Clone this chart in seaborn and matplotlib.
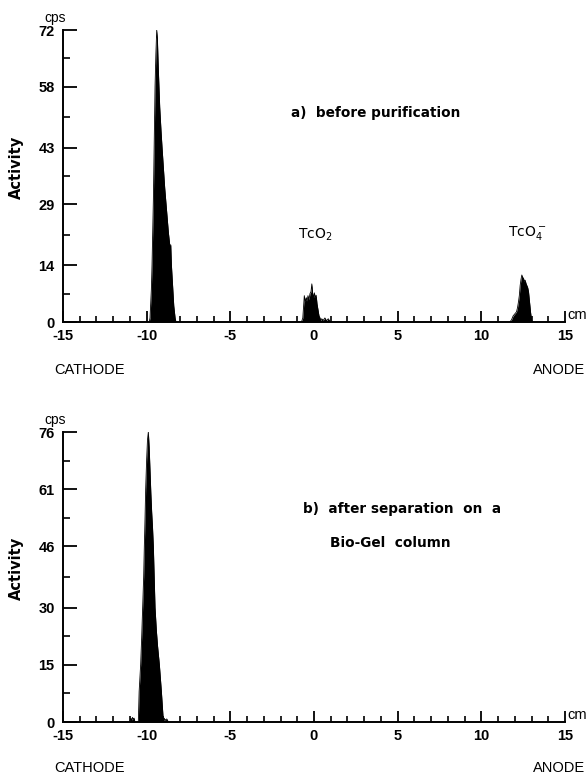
import numpy as np
import matplotlib
matplotlib.use("Agg")
import matplotlib.pyplot as plt
import seaborn as sns
from matplotlib.ticker import FixedLocator

# ---------------- data ----------------
# panel a) before purification
peak_a1_x = [-9.85, -9.80, -9.72, -9.68, -9.64, -9.60, -9.55, -9.50, -9.45, -9.40,
             -9.36, -9.30, -9.22, -9.14, -9.08, -9.00, -8.92, -8.86, -8.78, -8.70,
             -8.62, -8.56, -8.52, -8.45, -8.38, -8.30, -8.25]
peak_a1_y = [0, 1, 8, 14, 22, 30, 44, 58, 66, 72,
             70, 62, 53, 47, 43, 38, 33, 30, 26, 22,
             19, 19, 14, 9, 4, 1, 0]

peak_a2_x = [-0.75, -0.67, -0.62, -0.58, -0.52, -0.46, -0.41, -0.36, -0.30, -0.24,
             -0.18, -0.13, -0.08, -0.03, 0.02, 0.08, 0.13, 0.18, 0.24, 0.30,
             0.36, 0.40, 0.46, 0.55, 0.65, 0.75, 0.85, 0.95, 1.05]
peak_a2_y = [0, 1, 4, 6.5, 5, 6, 5.2, 6.5, 5.5, 7,
             7.5, 9.4, 7, 6, 7.2, 6, 6.6, 4.5, 3, 1.5,
             1, 0.3, 0.8, 0.4, 1.0, 0.3, 0.8, 0.2, 0]

peak_a3_x = [11.70, 11.80, 11.90, 12.00, 12.10, 12.16, 12.22, 12.27, 12.32, 12.37,
             12.42, 12.47, 12.52, 12.57, 12.62, 12.67, 12.72, 12.77, 12.82, 12.88,
             12.94, 13.00, 13.05]
peak_a3_y = [0, 0.5, 1.5, 2, 2.5, 3.5, 5, 6.5, 9, 10.5,
             11.6, 11, 10.8, 10, 10.3, 9.5, 9, 8.5, 7.5, 5,
             2.5, 0.5, 0]

# panel b) after separation on a Bio-Gel column
peak_b_x = [-11.00, -10.95, -10.90, -10.85, -10.80, -10.75, -10.70, -10.60, -10.50, -10.45,
            -10.36, -10.30, -10.24, -10.18, -10.14, -10.10, -10.06, -10.00, -9.95, -9.90,
            -9.85, -9.80, -9.75, -9.70, -9.65, -9.60, -9.55, -9.50, -9.42, -9.35,
            -9.24, -9.12, -9.00, -8.95, -8.90, -8.80, -8.70]
peak_b_y = [0, 1, 0.5, 1.2, 0.8, 1, 0, 0, 0, 8,
            15, 22, 30, 38, 46, 53, 61, 69, 74, 76,
            72, 66, 60, 55, 51, 46, 38, 30, 24, 20,
            15, 8, 0, 1, 0.5, 0.8, 0]

x_major = [-15, -10, -5, 0, 5, 10, 15]
x_labels = ["-15", "-10", "-5", "0", "5", "10", "15"]
y_ticks_a = [0, 14, 29, 43, 58, 72]
y_ticks_b = [0, 15, 30, 46, 61, 76]

# ---------------- figure ----------------
sns.set_style("ticks")
plt.rcParams["font.family"] = ["DejaVu Sans"]
plt.rcParams["mathtext.default"] = "regular"
plt.rcParams["text.color"] = "black"
plt.rcParams["axes.labelcolor"] = "black"
plt.rcParams["xtick.color"] = "black"
plt.rcParams["ytick.color"] = "black"

fig = plt.figure(figsize=(5.88, 7.75), dpi=100)
ax_a = fig.add_axes([63 / 588, 1 - 322 / 775, 502 / 588, 292 / 775])
ax_b = fig.add_axes([63 / 588, 1 - 722 / 775, 502 / 588, 290 / 775])

tick_font = dict(family="Liberation Sans", weight="bold", size=10.5)


def style_axis(ax, yt):
    ax.set_xlim(-15, 15)
    ax.set_ylim(0, yt[-1])
    for s in ["top", "right"]:
        ax.spines[s].set_visible(False)
    for s in ["left", "bottom"]:
        ax.spines[s].set_linewidth(1.4)
        ax.spines[s].set_color("black")
    ax.set_xticks(x_major)
    ax.set_xticklabels(x_labels, fontdict=tick_font)
    ax.xaxis.set_minor_locator(FixedLocator(np.arange(-14, 15, 1)))
    ax.set_yticks(yt)
    ax.set_yticklabels([str(v) for v in yt], fontdict=tick_font)
    mids = [(yt[i] + yt[i + 1]) / 2 for i in range(len(yt) - 1)]
    ax.yaxis.set_minor_locator(FixedLocator(mids))
    ax.tick_params(axis="x", which="both", bottom=True, top=False)
    ax.tick_params(axis="y", which="both", left=True, right=False)
    ax.tick_params(axis="x", which="major", direction="in", length=8, width=1.3,
                   pad=5, colors="black")
    ax.tick_params(axis="x", which="minor", direction="in", length=4.5, width=1.2,
                   colors="black")
    ax.tick_params(axis="y", which="major", direction="in", length=10, width=1.3,
                   pad=6, colors="black")
    ax.tick_params(axis="y", which="minor", direction="in", length=5, width=1.2,
                   colors="black")
    ax.set_xlabel("")
    ax.set_ylabel("")
    ax.grid(False)
    ax.set_facecolor("white")
    # "cps" and "cm"
    ax.text(-0.015, 1.018, "cps", transform=ax.transAxes, ha="center", va="bottom",
            fontsize=10, family="Liberation Sans", color="black")
    ax.text(1.005, 0.0, "cm", transform=ax.transAxes, ha="left", va="bottom",
            fontsize=10.5, family="Liberation Sans", color="black")
    ax.text(-0.092, 0.53, "Activity", transform=ax.transAxes, rotation=90,
            ha="center", va="center", fontsize=10.5, fontweight="bold",
            color="black")


def draw_peak(ax, xs, ys):
    sns.lineplot(x=xs, y=ys, ax=ax, color="black", lw=0.6, estimator=None,
                 sort=False, legend=False)
    ax.fill_between(xs, 0, ys, color="black", lw=0)


style_axis(ax_a, y_ticks_a)
style_axis(ax_b, y_ticks_b)

draw_peak(ax_a, peak_a1_x, peak_a1_y)
draw_peak(ax_a, peak_a2_x, peak_a2_y)
draw_peak(ax_a, peak_a3_x, peak_a3_y)
draw_peak(ax_b, peak_b_x, peak_b_y)

# annotations panel a
ax_a.text(-1.37, 51.5, "a)  before purification", ha="left", va="center",
          fontsize=9.8, fontweight="bold", color="black")
ax_a.text(-0.94, 21.4, r"TcO$_2$", ha="left", va="center", fontsize=10,
          color="black")
ax_a.text(11.62, 21.9, r"TcO$_4^-$", ha="left", va="center", fontsize=10,
          color="black")

# annotations panel b
ax_b.text(-0.67, 55.7, "b)  after separation  on  a", ha="left", va="center",
          fontsize=9.8, fontweight="bold", color="black")
ax_b.text(0.96, 46.9, "Bio-Gel  column", ha="left", va="center", fontsize=9.8,
          fontweight="bold", color="black")

# electrode labels
for y_px in (370, 768):
    fig.text(54 / 588, 1 - y_px / 775, "CATHODE", ha="left", va="center",
             fontsize=10.5, family="Liberation Sans", color="black")
    fig.text(585 / 588, 1 - y_px / 775, "ANODE", ha="right", va="center",
             fontsize=10.5, family="Liberation Sans", color="black")

fig.savefig("out.png", dpi=100, facecolor="white")
